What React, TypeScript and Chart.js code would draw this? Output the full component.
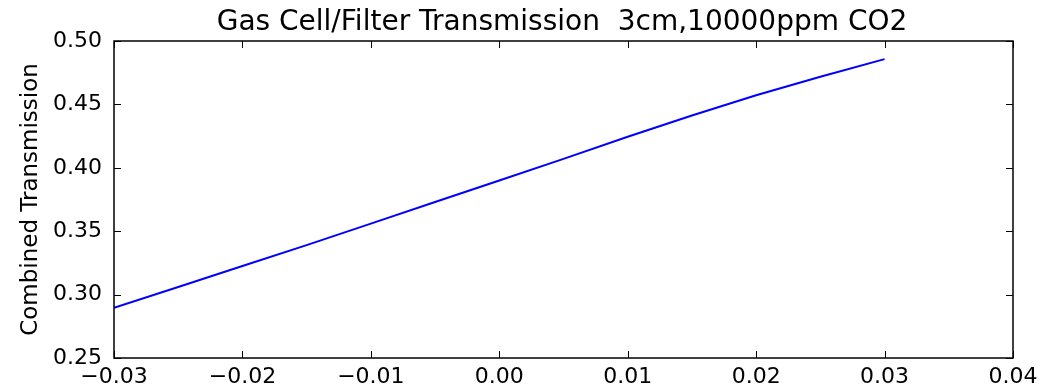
import React, { useEffect, useRef } from "react";
import { Chart, registerables } from "chart.js";

Chart.register(...registerables);

// Filter offset (x) and combined transmission (y)
const offsets = [-0.03, -0.025, -0.02, -0.015, -0.01, -0.005, 0.0, 0.005, 0.01, 0.015, 0.02, 0.025, 0.03];
const transmission = [0.2895, 0.306, 0.3225, 0.339, 0.356, 0.373, 0.39, 0.407, 0.4245, 0.4412, 0.4572, 0.4718, 0.4857];

const titleText = "Gas Cell/Filter Transmission  3cm,10000ppm CO2";
const yLabel = "Combined Transmission";
const FONT = "'DejaVu Sans', sans-serif";

// Draws the boxed frame, inward ticks on all four sides and the title over the plot area
const frameAndTicks = {
  id: "frameAndTicks",
  afterDatasetsDraw(chart: any) {
    const { ctx, chartArea: a, scales } = chart;
    const len = 7;
    ctx.save();
    ctx.strokeStyle = "#000";
    ctx.lineWidth = 1;
    ctx.beginPath();
    scales.x.ticks.forEach((t: any) => {
      const px = Math.round(scales.x.getPixelForValue(t.value)) + 0.5;
      ctx.moveTo(px, a.bottom);
      ctx.lineTo(px, a.bottom - len);
      ctx.moveTo(px, a.top);
      ctx.lineTo(px, a.top + len);
    });
    scales.y.ticks.forEach((t: any) => {
      const py = Math.round(scales.y.getPixelForValue(t.value)) + 0.5;
      ctx.moveTo(a.left, py);
      ctx.lineTo(a.left + len, py);
      ctx.moveTo(a.right, py);
      ctx.lineTo(a.right - len, py);
    });
    ctx.stroke();
    ctx.lineWidth = 1.5;
    ctx.strokeRect(a.left, a.top, a.right - a.left, a.bottom - a.top);
    ctx.fillStyle = "#000";
    ctx.font = `28px ${FONT}`;
    ctx.textAlign = "center";
    ctx.textBaseline = "alphabetic";
    ctx.fillText(titleText, (a.left + a.right) / 2 - 1.5, 30);
    ctx.restore();
  },
};

export default function App() {
  const ref = useRef<HTMLCanvasElement | null>(null);

  useEffect(() => {
    if (!ref.current) return;
    const fmt = (v: number, d: number) => {
      const s = Math.abs(v).toFixed(d);
      return v < -1e-9 ? "\u2212" + s : s;
    };
    const chart = new Chart(ref.current, {
      type: "line",
      data: {
        datasets: [
          {
            data: offsets.map((x, i) => ({ x, y: transmission[i] })),
            borderColor: "#0000ff",
            borderWidth: 2,
            pointRadius: 0,
            fill: false,
            tension: 0,
          },
        ],
      },
      options: {
        animation: false,
        responsive: false,
        layout: { padding: { top: 41, right: 39, left: 0, bottom: 0 } },
        plugins: {
          legend: { display: false },
          title: { display: false },
          tooltip: { enabled: false },
        },
        scales: {
          x: {
            type: "linear",
            min: -0.03,
            max: 0.04,
            grid: { display: false, drawTicks: false },
            border: { display: false },
            ticks: {
              stepSize: 0.01,
              padding: 6,
              color: "#000",
              font: { family: FONT, size: 22 },
              callback: (v: any) => fmt(Number(v), 2),
            },
            afterFit: (s: any) => {
              s.height = 33;
            },
          },
          y: {
            type: "linear",
            min: 0.25,
            max: 0.5,
            grid: { display: false, drawTicks: false },
            border: { display: false },
            title: {
              display: true,
              text: yLabel,
              color: "#000",
              font: { family: FONT, size: 23 },
              padding: { top: 17, bottom: 0 },
            },
            ticks: {
              stepSize: 0.05,
              padding: 12,
              color: "#000",
              font: { family: FONT, size: 22 },
              callback: (v: any) => fmt(Number(v), 2),
            },
            afterFit: (s: any) => {
              s.width = 114;
            },
          },
        },
      },
      plugins: [frameAndTicks],
    });
    return () => chart.destroy();
  }, []);

  return (
    <div style={{ position: "absolute", left: 0, top: 0, width: 1052, height: 391, background: "#fff" }}>
      <canvas ref={ref} width={1052} height={391} />
    </div>
  );
}
